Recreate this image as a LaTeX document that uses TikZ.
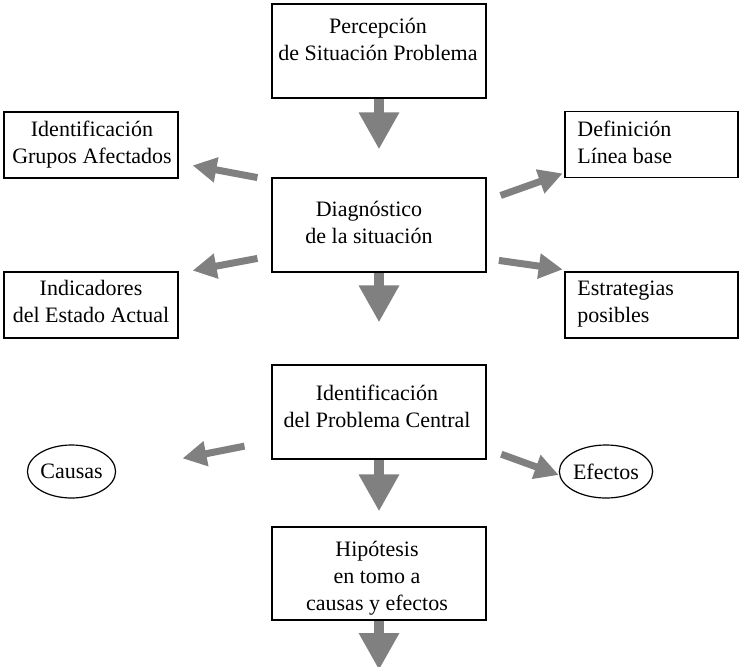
\documentclass[tikz,border=0pt]{standalone}
\usepackage{fontspec}
\setmainfont{Liberation Serif}
\usepackage{tikz}
\usetikzlibrary{arrows.meta,shapes,positioning}
\definecolor{flecha}{RGB}{128,128,128}

\begin{document}
\begin{tikzpicture}[x=0.5pt,y=-0.5pt,
	every node/.style={font=\fontsize{11}{13.5}\selectfont},
	caja/.style={draw,line width=0.6pt,rectangle,inner sep=0pt},
	grande/.style={caja,minimum width=107pt,minimum height=47pt},
	chica/.style={caja,minimum width=87pt,minimum height=33pt},
	elipse/.style={draw,line width=0.6pt,ellipse,inner sep=0pt,minimum width=41pt,minimum height=26.5pt},
	texto/.style={inner sep=0pt,align=center,anchor=base},
	flechota/.style={flecha,line width=5pt,-{Triangle[length=18.5pt,width=19pt]}},
	flechita/.style={flecha,line width=3.5pt,-{Triangle[length=12pt,width=12pt]}}]

	\useasboundingbox (0,0) rectangle (740,666);

	% cajas centrales
	\node[grande] (perc) at (379,51) {};
	\node[grande] (diag) at (379,225) {};
	\node[grande] (probl) at (379,412) {};
	\node[grande,minimum height=46.5pt] (hipo) at (379,573.5) {};

	% cajas laterales
	\node[chica] (grupos) at (91,145) {};
	\node[chica] (indic) at (91,305) {};
	\node[chica,minimum width=86.5pt] (linea) at (651.5,144.5) {};
	\node[chica,minimum width=86.5pt] (estrat) at (651.5,305) {};
	\node[elipse] (causas) at (71.5,471.5) {Causas};
	\node[elipse] (efectos) at (606,471.5) {Efectos};

	% textos (base = ultima linea)
	\node[texto] (tperc) at (378,60) {Percepción\\de Situación Problema};
	\node[texto] (tdiag) at (369,243) {Diagnóstico\\de la situación};
	\node[texto] (tprobl) at (377,427) {Identificación\\del Problema Central};
	\node[texto] (thipo) at (377,610) {Hipótesis\\en tomo a\\causas y efectos};
	\node[texto] (tgrupos) at (92,163) {Identificación\\Grupos Afectados};
	\node[texto] (tindic) at (91,322) {Indicadores\\del Estado Actual};
	\node[texto,align=left,anchor=base west] (tlinea) at (577,163) {Definición\\Línea base};
	\node[texto,align=left,anchor=base west] (testrat) at (577,322) {Estrategias\\posibles};

	% flechas verticales
	\coordinate (sigue) at (379,670);
	\draw[flechota,shorten >=14pt] (perc.south) -- (diag.north);
	\draw[flechota,shorten >=21pt] (diag.south) -- (probl.north);
	\draw[flechota,shorten >=7.5pt] (probl.south) -- (hipo.north);
	\draw[flechota] (hipo.south) -- (sigue);

	% flechas laterales
	\draw[flechita,shorten <=7.1pt,shorten >=7.1pt] ([yshift=-1.4pt]diag.north west) -- ([yshift=7.9pt]grupos.south east);
	\draw[flechita,shorten <=7.1pt,shorten >=7.1pt] ([yshift=8.4pt]diag.south west) -- ([yshift=-0.9pt]indic.north east);
	\draw[flechita,shorten <=7.45pt,shorten >=0.9pt] ([yshift=-11.55pt]diag.north east) -- ([yshift=2.65pt]linea.south west);
	\draw[flechita,shorten <=6.2pt,shorten >=0.85pt] ([yshift=6.95pt]diag.south east) -- ([yshift=0.85pt]estrat.north west);
	\draw[flechita,shorten <=13.7pt,shorten >=33.8pt] ([yshift=9.4pt]probl.south west) -- (causas.east);
	\draw[flechita,shorten <=7.8pt] ([yshift=5.35pt]probl.south east) -- ([yshift=-1.75pt]efectos.west);

\end{tikzpicture}
\end{document}
